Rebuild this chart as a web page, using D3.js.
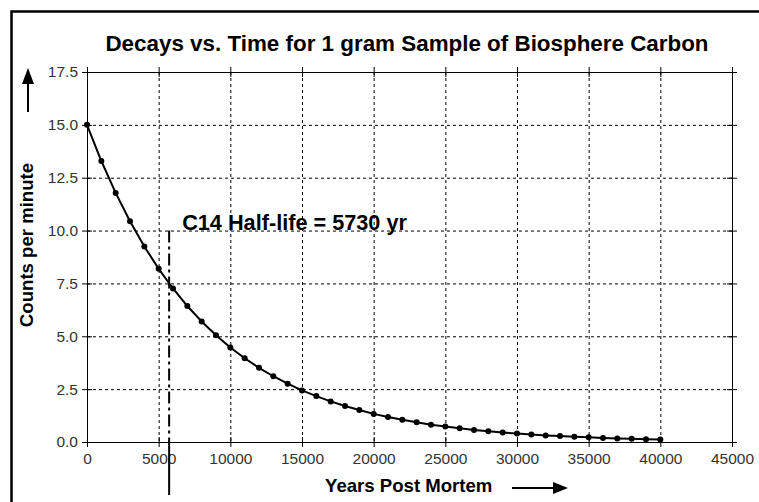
<!DOCTYPE html>
<html>
<head>
<meta charset="utf-8">
<script src="https://cdn.jsdelivr.net/npm/d3@7"></script>
<style>
  body { margin: 0; background: #fff; }
  svg text { font-family: "Liberation Sans", Arial, sans-serif; }
</style>
</head>
<body>
<div id="chart"></div>
<script>
// values, one point every 1000 years
var years = [0, 1000, 2000, 3000, 4000, 5000, 6000, 7000, 8000, 9000, 10000,
    11000, 12000, 13000, 14000, 15000, 16000, 17000, 18000, 19000, 20000,
    21000, 22000, 23000, 24000, 25000, 26000, 27000, 28000, 29000, 30000,
    31000, 32000, 33000, 34000, 35000, 36000, 37000, 38000, 39000, 40000];
var counts = [15.0, 13.29, 11.78, 10.44, 9.25, 8.19, 7.26, 6.43, 5.70, 5.05, 4.47,
    3.96, 3.51, 3.11, 2.76, 2.44, 2.17, 1.92, 1.70, 1.51, 1.33,
    1.18, 1.05, 0.93, 0.82, 0.73, 0.65, 0.57, 0.51, 0.45, 0.40,
    0.35, 0.31, 0.28, 0.25, 0.22, 0.19, 0.17, 0.15, 0.13, 0.12];
var xTicks = [0, 5000, 10000, 15000, 20000, 25000, 30000, 35000, 40000, 45000];
var yTicks = [0, 2.5, 5, 7.5, 10, 12.5, 15, 17.5];
var halfLife = 5730;

var title = "Decays vs. Time for 1 gram Sample of Biosphere Carbon";
var xLabel = "Years Post Mortem";
var yLabel = "Counts per minute";
var halfLifeLabel = "C14 Half-life = 5730 yr";

var W = 759, H = 502;
var margin = {top: 72, right: 27, bottom: 60, left: 87};
var width = W - margin.left - margin.right,
    height = H - margin.top - margin.bottom;

var svg = d3.select("#chart").append("svg")
    .attr("width", W)
    .attr("height", H);

// outer frame (left and top edges only)
svg.append("path")
    .attr("d", "M11.5," + H + "V11.5H" + W)
    .attr("fill", "none")
    .attr("stroke", "#000")
    .attr("stroke-width", 2.5);

svg.append("text")
    .attr("x", 407)
    .attr("y", 51)
    .attr("text-anchor", "middle")
    .attr("font-size", 22.4)
    .attr("font-weight", "bold")
    .text(title);

var g = svg.append("g")
    .attr("transform", "translate(" + margin.left + "," + margin.top + ")");

var x = d3.scaleLinear().domain([0, 45000]).range([0, width]);
var y = d3.scaleLinear().domain([0, 17.5]).range([height, 0]);

// dotted grid
g.append("g")
    .attr("class", "grid")
    .call(d3.axisBottom(x).tickValues(xTicks.slice(1, -1)).tickSize(height).tickFormat(""));
g.append("g")
    .attr("class", "grid")
    .call(d3.axisLeft(y).tickValues(yTicks.slice(1, -1)).tickSize(-width).tickFormat(""));
g.selectAll(".grid .domain").remove();
g.selectAll(".grid line")
    .attr("stroke", "#000")
    .attr("stroke-dasharray", "3,3");

// axes, ticks crossing the frame
var xAxis = g.append("g")
    .attr("transform", "translate(0," + height + ")")
    .call(d3.axisBottom(x).tickValues(xTicks).tickSizeOuter(0).tickFormat(d3.format("d")));
var xTop = g.append("g")
    .call(d3.axisTop(x).tickValues(xTicks).tickSizeOuter(0).tickFormat(""));
var yAxis = g.append("g")
    .call(d3.axisLeft(y).tickValues(yTicks).tickSizeOuter(0).tickFormat(d3.format(".1f")));
var yRight = g.append("g")
    .attr("transform", "translate(" + width + ",0)")
    .call(d3.axisRight(y).tickValues(yTicks).tickSizeOuter(0).tickFormat(""));

[xAxis, xTop].forEach(function(a) {
    a.selectAll(".tick line").attr("y1", -5).attr("y2", 5);
});
[yAxis, yRight].forEach(function(a) {
    a.selectAll(".tick line").attr("x1", -5).attr("x2", 5);
});
g.selectAll(".domain, .tick line").attr("stroke", "#000");

xAxis.selectAll("text")
    .attr("y", 11)
    .attr("font-size", 15.5)
    .attr("font-family", "Liberation Sans, Arial, sans-serif")
    .attr("fill", "#333");
yAxis.selectAll("text")
    .attr("x", -9)
    .attr("font-size", 15.5)
    .attr("font-family", "Liberation Sans, Arial, sans-serif")
    .attr("fill", "#333");

// half-life marker
g.append("line")
    .attr("x1", x(halfLife)).attr("x2", x(halfLife))
    .attr("y1", y(10)).attr("y2", y(0))
    .attr("stroke", "#000")
    .attr("stroke-width", 2)
    .attr("stroke-dasharray", "12,4,3,4");
g.append("line")
    .attr("x1", x(halfLife)).attr("x2", x(halfLife))
    .attr("y1", y(0)).attr("y2", y(0) + 53)
    .attr("stroke", "#000")
    .attr("stroke-width", 2);

g.append("text")
    .attr("x", x(halfLife) + 13)
    .attr("y", y(10) - 1)
    .attr("font-size", 21.7)
    .attr("font-weight", "bold")
    .text(halfLifeLabel);

// decay curve
var pts = years.map(function(t, i) { return [t, counts[i]]; });
g.append("path")
    .datum(pts)
    .attr("fill", "none")
    .attr("stroke", "#000")
    .attr("stroke-width", 2)
    .attr("d", d3.line()
        .x(function(d) { return x(d[0]); })
        .y(function(d) { return y(d[1]); }));
g.selectAll(".pt")
    .data(pts)
    .enter()
    .append("circle")
    .attr("class", "pt")
    .attr("cx", function(d) { return x(d[0]); })
    .attr("cy", function(d) { return y(d[1]); })
    .attr("r", 3)
    .attr("fill", "#000");

// axis titles with arrows
svg.append("text")
    .attr("x", 325)
    .attr("y", 492)
    .attr("font-size", 18.6)
    .attr("font-weight", "bold")
    .text(xLabel);
svg.append("line")
    .attr("x1", 512).attr("x2", 555)
    .attr("y1", 488).attr("y2", 488)
    .attr("stroke", "#000")
    .attr("stroke-width", 2);
svg.append("path")
    .attr("d", "M553,482L568,488L553,494Z")
    .attr("fill", "#000");

svg.append("text")
    .attr("transform", "translate(33,245) rotate(-90)")
    .attr("text-anchor", "middle")
    .attr("font-size", 18.6)
    .attr("font-weight", "bold")
    .text(yLabel);
svg.append("line")
    .attr("x1", 28).attr("x2", 28)
    .attr("y1", 112).attr("y2", 82)
    .attr("stroke", "#000")
    .attr("stroke-width", 2);
svg.append("path")
    .attr("d", "M22,84L28,68L34,84Z")
    .attr("fill", "#000");
</script>
</body>
</html>
